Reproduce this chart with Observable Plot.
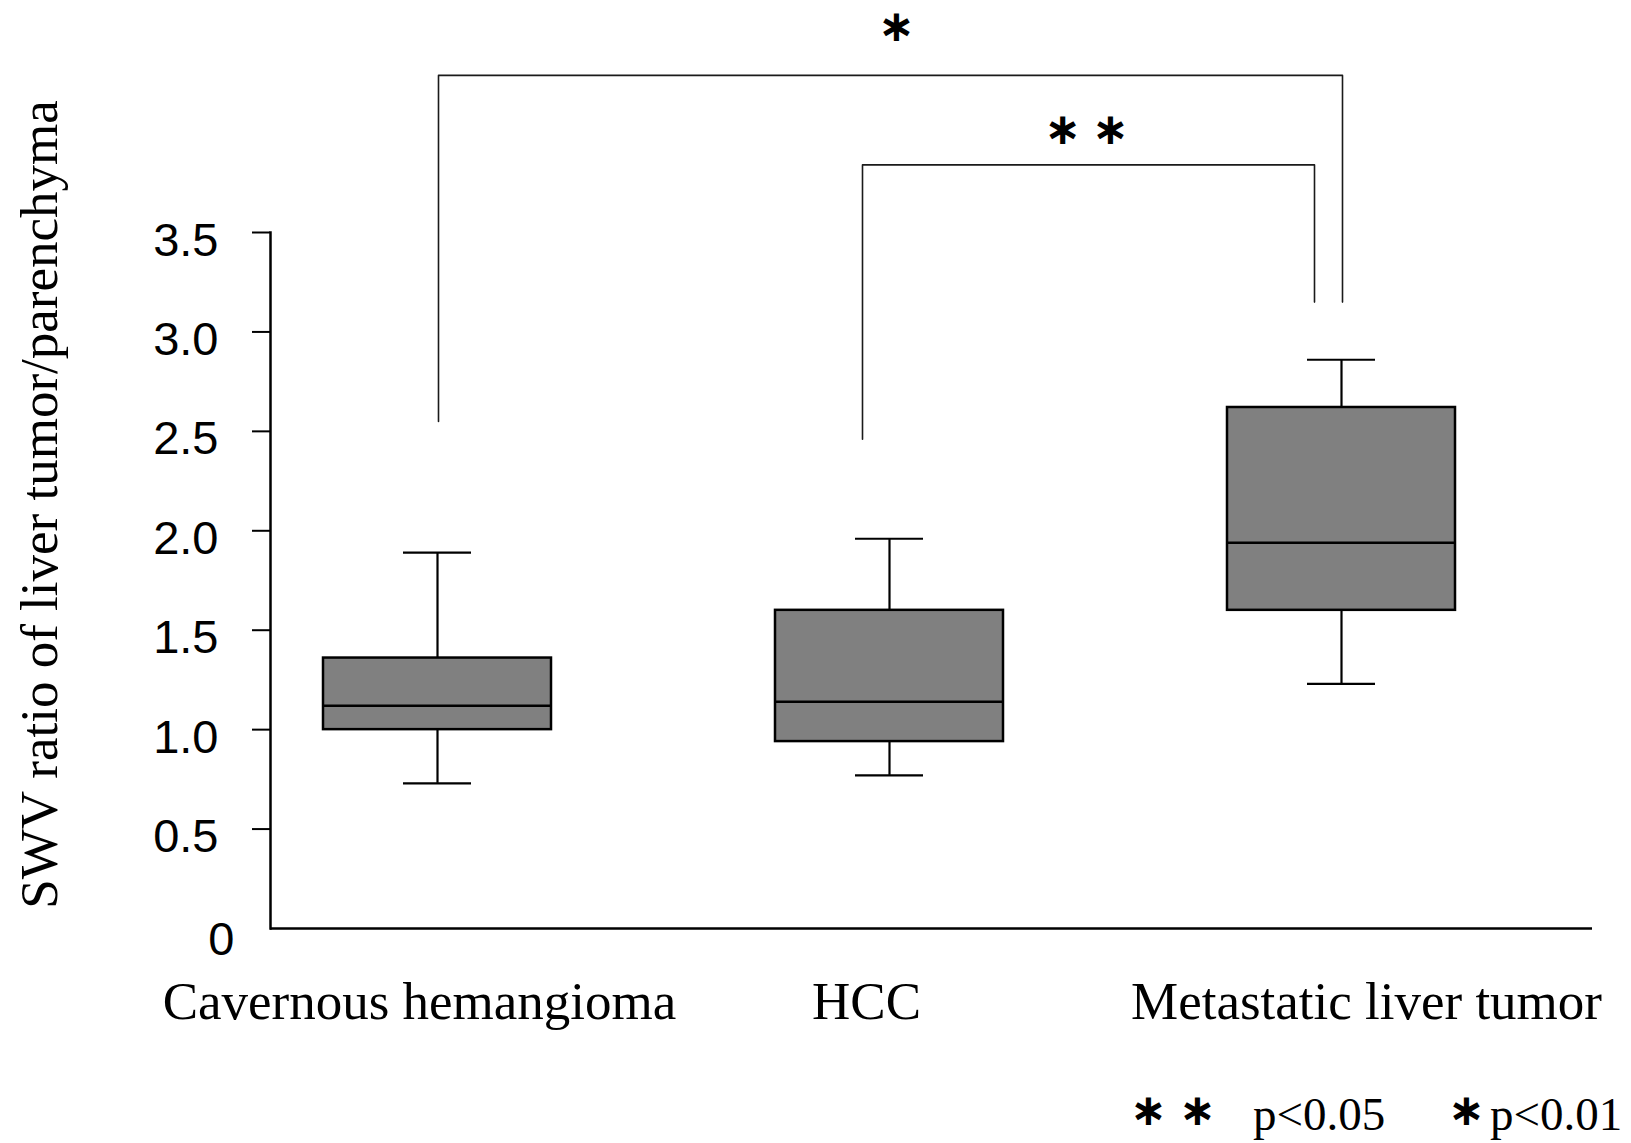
<!DOCTYPE html>
<html>
<head>
<meta charset="utf-8">
<script src="https://cdn.jsdelivr.net/npm/d3@7"></script>
<script src="https://cdn.jsdelivr.net/npm/@observablehq/plot@0.6"></script>
<style>
  html, body { margin: 0; padding: 0; background: #fff; overflow: hidden; width: 1631px; height: 1143px; }
  #chart svg { display: block; }
  #legend { position: relative; width: 1631px; height: 83px; font-family: "Liberation Serif", "Times New Roman", serif; font-size: 47px; color: #000; }
  #legend span { position: absolute; top: 24px; line-height: 60px; white-space: pre; }
  #legend .st { font-family: "DejaVu Sans", sans-serif; font-weight: 700; font-size: 44px; top: 20px; }
</style>
</head>
<body>
<div id="chart"></div>
<div id="legend"></div>
<script>
// ---- data ----
const groups = ["Cavernous hemangioma", "HCC", "Metastatic liver tumor"];
const whiskerLow = [0.73, 0.77, 1.23];
const q1 = [1.00, 0.94, 1.60];
const median = [1.12, 1.14, 1.94];
const q3 = [1.36, 1.60, 2.62];
const whiskerHigh = [1.89, 1.96, 2.86];

const yTicks = [0.5, 1.0, 1.5, 2.0, 2.5, 3.0, 3.5];
const yTitle = "SWV ratio of liver tumor/parenchyma";

const bracketFrom = ["Cavernous hemangioma", "HCC"];
const bracketTo = ["Metastatic liver tumor", "Metastatic liver tumor"];
const bracketFromY = [2.55, 2.46];
const bracketTop = [4.29, 3.84];
const bracketToY = [3.15, 3.15];
const bracketLabel = ["∗", "∗\u2005∗"];
const bracketLabelY = [4.535, 4.017];

const legendItems = [
  {text: "∗", cls: "st"}, {text: "∗", cls: "st"}, {text: "p<0.05", cls: "p"},
  {text: "∗", cls: "st"}, {text: "p<0.01", cls: "p"}
];

// ---- tables ----
const boxes = groups.map((g, i) => ({group: g, low: whiskerLow[i], q1: q1[i], median: median[i], q3: q3[i], high: whiskerHigh[i]}));
const bracketPath = (i) => [
  {x: bracketFrom[i], y: bracketFromY[i]},
  {x: bracketFrom[i], y: bracketTop[i]},
  {x: bracketTo[i], y: bracketTop[i]},
  {x: bracketTo[i], y: bracketToY[i]}
];

const serif = "'Liberation Serif', 'Times New Roman', serif";
const sans = "'Liberation Sans', Arial, Helvetica, sans-serif";
const starFont = "'DejaVu Sans', sans-serif";
const labelShift = [-18, -23, 25];

const chart = Plot.plot({
  width: 1631,
  height: 1060,
  marginLeft: 270,
  marginRight: 39,
  marginTop: 232,
  marginBottom: 132,
  style: {background: "#fff", color: "#000", overflow: "visible"},
  x: {type: "band", domain: groups, paddingInner: 0.496, paddingOuter: 0.115, insetRight: 85},
  y: {domain: [0, 3.5]},
  marks: [
    // y axis: ticks, labels, line
    Plot.axisY({ticks: yTicks, tickSize: 18, tickFormat: () => "", strokeWidth: 2, label: null}),
    Plot.axisY({ticks: yTicks, tickSize: 0, tickPadding: 52, tickFormat: d => d.toFixed(1),
      fontSize: 47, fontFamily: sans, label: null, dy: 8}),
    Plot.axisY({ticks: [0], tickSize: 0, tickPadding: 36, tickFormat: () => "0",
      fontSize: 47, fontFamily: sans, label: null, dy: 11}),
    Plot.frame({anchor: "left", strokeWidth: 2.5}),
    // x axis
    Plot.ruleY([0], {strokeWidth: 2.5}),
    ...groups.map((g, i) => Plot.axisX({ticks: [g], tickSize: 0, tickPadding: 53, fontSize: 53,
      fontFamily: serif, label: null, dx: labelShift[i]})),
    Plot.text([yTitle], {frameAnchor: "left", textAnchor: "middle", rotate: -90, dx: -230, dy: -76,
      fontSize: 53, fontFamily: serif, fill: "#000"}),
    // boxes
    Plot.ruleX(boxes, {x: "group", y1: "low", y2: "high", strokeWidth: 2.2}),
    Plot.tickY(boxes, {x: "group", y: "low", strokeWidth: 2.2, insetLeft: 80, insetRight: 80}),
    Plot.tickY(boxes, {x: "group", y: "high", strokeWidth: 2.2, insetLeft: 80, insetRight: 80}),
    Plot.barY(boxes, {x: "group", y1: "q1", y2: "q3", fill: "#808080", stroke: "#000", strokeWidth: 2.5}),
    Plot.tickY(boxes, {x: "group", y: "median", strokeWidth: 2.5}),
    // significance brackets
    Plot.line(bracketPath(0), {x: "x", y: "y", stroke: "#1a1a1a", strokeWidth: 1.6, dx: 1}),
    Plot.line(bracketPath(1), {x: "x", y: "y", stroke: "#1a1a1a", strokeWidth: 1.6, dx: -27}),
    Plot.text([0], {x: () => groups[1], y: () => bracketLabelY[0], text: () => bracketLabel[0], dx: 7,
      fontSize: 44, fontWeight: 700, fontFamily: starFont, fill: "#000"}),
    Plot.text([1], {x: () => bracketTo[1], y: () => bracketLabelY[1], text: () => bracketLabel[1], dx: -255,
      fontSize: 44, fontWeight: 700, fontFamily: starFont, fill: "#000"})
  ]
});
document.getElementById("chart").appendChild(chart);

// legend (below the SVG)
const legendLeft = [1130, 1179, 1253, 1448, 1490];
const legend = document.getElementById("legend");
legendItems.forEach((d, i) => {
  const s = document.createElement("span");
  s.className = d.cls;
  s.textContent = d.text;
  s.style.left = legendLeft[i] + "px";
  legend.appendChild(s);
});
</script>
</body>
</html>
